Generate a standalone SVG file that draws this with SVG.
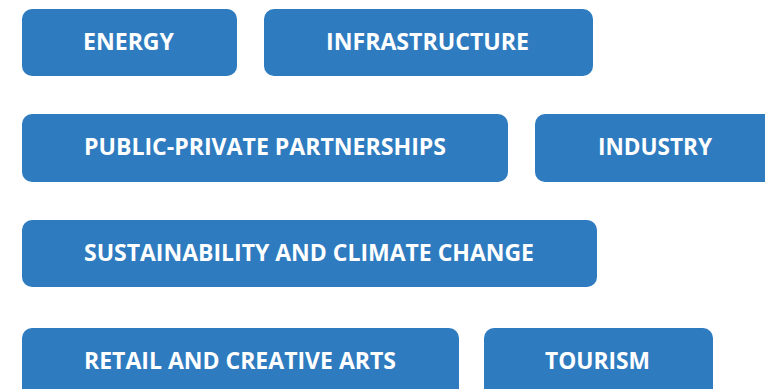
<svg xmlns="http://www.w3.org/2000/svg" width="765" height="389" viewBox="0 0 765 389">
<style>
.box{fill:#2E7BBF}
.t{font-family:"Open Sans","Liberation Sans",sans-serif;font-weight:700;font-size:24px;fill:#FFFFFF}
</style>
<rect width="765" height="389" fill="#FFFFFF"/>
<g id="energy"><rect class="box" x="22" y="9" width="215" height="67" rx="10"/><text class="t" x="83" y="50" textLength="91" lengthAdjust="spacingAndGlyphs">ENERGY</text></g>
<g id="infrastructure"><rect class="box" x="264" y="9" width="329" height="67" rx="10"/><text class="t" x="326" y="50" textLength="203" lengthAdjust="spacingAndGlyphs">INFRASTRUCTURE</text></g>
<g id="ppp"><rect class="box" x="22" y="114" width="486" height="68" rx="10"/><text class="t" x="84" y="155" textLength="362" lengthAdjust="spacingAndGlyphs">PUBLIC-PRIVATE PARTNERSHIPS</text></g>
<g id="industry"><rect class="box" x="535" y="114" width="245" height="68" rx="10"/><text class="t" x="598" y="155" textLength="114" lengthAdjust="spacingAndGlyphs">INDUSTRY</text></g>
<g id="sustainability"><rect class="box" x="22" y="220" width="575" height="67" rx="10"/><text class="t" x="84" y="261" textLength="450" lengthAdjust="spacingAndGlyphs">SUSTAINABILITY AND CLIMATE CHANGE</text></g>
<g id="retail"><rect class="box" x="22" y="328" width="437" height="72" rx="10"/><text class="t" x="84" y="369" textLength="312" lengthAdjust="spacingAndGlyphs">RETAIL AND CREATIVE ARTS</text></g>
<g id="tourism"><rect class="box" x="484" y="328" width="229" height="72" rx="10"/><text class="t" x="545" y="369" textLength="105" lengthAdjust="spacingAndGlyphs">TOURISM</text></g>
<g id="connectors"></g>
</svg>
